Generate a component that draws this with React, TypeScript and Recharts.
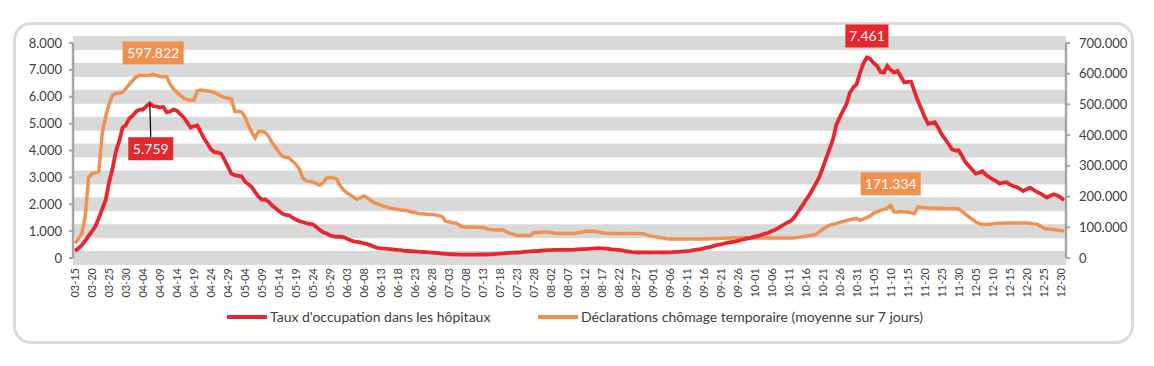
import React from 'react';
import { LineChart, Line, XAxis, YAxis, CartesianGrid, LabelList } from 'recharts';

// 2020-03-15 .. 2020-12-31, one point per day
const startMonth = 3;
const startDay = 15;
const monthLengths = [31, 29, 31, 30, 31, 30, 31, 31, 30, 31, 30, 31];

const hospitalOccupancy = [
  260, 360, 480, 640, 820, 990, 1180, 1480, 1820, 2150,
  2800, 3300, 3950, 4350, 4850, 4950, 5200, 5300, 5450, 5520,
  5530, 5650, 5759, 5650, 5640, 5600, 5620, 5420, 5450, 5520,
  5480, 5350, 5230, 5050, 4860, 4900, 4930, 4680, 4450, 4250,
  4050, 3940, 3920, 3880, 3650, 3400, 3140, 3080, 3060, 3040,
  2850, 2750, 2640, 2450, 2280, 2170, 2180, 2090, 1950, 1850,
  1750, 1650, 1600, 1590, 1500, 1430, 1370, 1340, 1300, 1270,
  1250, 1150, 1050, 960, 910, 850, 800, 790, 790, 780,
  720, 660, 620, 600, 580, 540, 520, 470, 420, 380,
  360, 350, 340, 325, 315, 300, 290, 265, 260, 255,
  245, 235, 230, 220, 210, 200, 190, 180, 165, 150,
  145, 140, 135, 130, 128, 125, 125, 125, 128, 130,
  130, 130, 135, 145, 155, 165, 170, 180, 190, 200,
  205, 210, 225, 235, 245, 255, 260, 270, 280, 290,
  295, 300, 300, 305, 300, 300, 300, 310, 320, 330,
  330, 340, 350, 360, 365, 360, 350, 340, 320, 310,
  300, 280, 260, 240, 220, 210, 205, 210, 210, 205,
  210, 210, 210, 205, 210, 210, 220, 230, 235, 245,
  255, 265, 290, 310, 330, 360, 390, 410, 450, 490,
  510, 540, 570, 590, 610, 640, 670, 700, 730, 760,
  800, 820, 860, 900, 940, 1000, 1050, 1120, 1200, 1280,
  1340, 1420, 1570, 1770, 1950, 2150, 2330, 2550, 2770, 3010,
  3350, 3700, 4050, 4400, 4950, 5230, 5480, 5730, 6150, 6350,
  6470, 6900, 7250, 7461, 7400, 7250, 7150, 6920, 6900, 7150,
  7000, 6900, 6960, 6750, 6530, 6550, 6560, 6200, 5850, 5550,
  5250, 4990, 5020, 5050, 4850, 4600, 4430, 4250, 4050, 4000,
  4000, 3800, 3570, 3420, 3280, 3140, 3170, 3230, 3100, 3010,
  2930, 2860, 2770, 2800, 2830, 2740, 2680, 2640, 2570, 2490,
  2560, 2620, 2540, 2460, 2400, 2320, 2250, 2320, 2370, 2330,
  2260, 2150,
];

const temporaryUnemployment = [
  48000, 62000, 80000, 134000, 263000, 275000, 278000, 282000, 404000, 460000,
  500000, 530000, 536000, 537000, 540000, 552000, 566000, 578000, 590000, 594000,
  594000, 594000, 595000, 597822, 594000, 591000, 590000, 590000, 566000, 550000,
  539000, 530000, 520000, 515000, 514000, 514000, 544000, 547000, 545000, 544000,
  542000, 539000, 533000, 527000, 523000, 520000, 518000, 477000, 477000, 476000,
  460000, 432000, 410000, 391000, 413000, 412000, 409000, 395000, 375000, 361000,
  345000, 331000, 328000, 326000, 315000, 305000, 290000, 260000, 251000, 250000,
  247000, 243000, 237000, 245000, 260000, 262000, 260000, 258000, 235000, 222000,
  212000, 205000, 198000, 191000, 196000, 202000, 196000, 188000, 180000, 176000,
  172000, 168000, 165000, 162000, 160000, 158000, 156000, 155000, 153000, 150000,
  148000, 145000, 144000, 143000, 142000, 142000, 140000, 138000, 135000, 120000,
  118000, 115000, 114000, 108000, 101000, 100000, 101000, 100000, 100000, 99000,
  99000, 96000, 93000, 92000, 91000, 91000, 91000, 84000, 80000, 77000,
  74000, 73000, 73000, 73000, 73000, 82000, 83000, 84000, 85000, 85000,
  83000, 81000, 80000, 80000, 80000, 80000, 80000, 80000, 82000, 84000,
  86000, 87000, 87000, 86000, 85000, 82000, 80000, 80000, 80000, 80000,
  79000, 80000, 80000, 80000, 79000, 80000, 80000, 79000, 76000, 72000,
  70000, 69000, 67000, 65000, 63000, 62000, 62000, 62000, 62000, 62000,
  62000, 62000, 62000, 62000, 62000, 62000, 62000, 63000, 63000, 63000,
  64000, 64000, 65000, 65000, 66000, 66000, 66000, 65000, 65000, 65000,
  65000, 65000, 65000, 65000, 65000, 65000, 65000, 65000, 65000, 65000,
  65000, 65000, 66000, 68000, 69000, 71000, 73000, 75000, 77000, 85000,
  94000, 101000, 106000, 110000, 112000, 116000, 119000, 122000, 125000, 127000,
  129000, 123000, 127000, 132000, 137000, 146000, 150000, 155000, 158000, 163000,
  171334, 150000, 150000, 151000, 150000, 149000, 147000, 145000, 166000, 165000,
  164000, 163000, 162000, 162000, 162000, 161000, 161000, 161000, 161000, 161000,
  160000, 152000, 143000, 134000, 126000, 118000, 112000, 110000, 109000, 110000,
  111000, 112000, 113000, 113000, 114000, 114000, 114000, 114000, 114000, 114000,
  114000, 113000, 111000, 110000, 104000, 97000, 95000, 94000, 93000, 91000,
  89000, 88000,
];

const leftTicks = [0, 1000, 2000, 3000, 4000, 5000, 6000, 7000, 8000];
const rightTicks = [0, 100000, 200000, 300000, 400000, 500000, 600000, 700000];

const seriesNames = [
  "Taux d'occupation dans les hôpitaux",
  'Déclarations chômage temporaire (moyenne sur 7 jours)',
];

const RED = '#e8262d';
const ORANGE = '#f0914f';
const TEXT = '#404040';
const FONT = 'Lato, "Noto Sans", sans-serif';

const pad = (n: number) => (n < 10 ? '0' + n : String(n));

const dates: string[] = [];
{
  let m = startMonth;
  let d = startDay;
  for (let i = 0; i < hospitalOccupancy.length; i++) {
    dates.push(`${pad(m)}-${pad(d)}`);
    d++;
    if (d > monthLengths[m - 1]) {
      d = 1;
      m++;
    }
  }
}

const data = dates.map((date, i) => ({
  date,
  hosp: hospitalOccupancy[i],
  chom: temporaryUnemployment[i],
}));

const fmt = (v: number) => String(Math.round(v)).replace(/\B(?=(\d{3})+(?!\d))/g, '.');

const peakOf = (arr: number[]) => arr.indexOf(Math.max(...arr));
const hospFirstPeak = peakOf(hospitalOccupancy.slice(0, 100));
const hospSecondPeak = peakOf(hospitalOccupancy);
const chomFirstPeak = peakOf(temporaryUnemployment);
const chomSecondPeak = 150 + peakOf(temporaryUnemployment.slice(150));

const makeLabel = (
  indices: number[],
  color: string,
  below: boolean[],
  widths: number[]
) => (props: any) => {
  const { x, y, index, value } = props;
  const k = indices.indexOf(index);
  if (k < 0) return null;
  const w = widths[k];
  const h = 23;
  if (below[k]) {
    const top = y + 34;
    return (
      <g>
        <line x1={x} y1={y} x2={x + 1} y2={top} stroke="#000" strokeWidth={1.2} />
        <rect x={x + 1 - w / 2} y={top} width={w} height={h} fill={color} />
        <text x={x + 1} y={top + h / 2} dy="0.35em" textAnchor="middle" fill="#fff" fontSize={14} fontFamily={FONT}>
          {fmt(value)}
        </text>
      </g>
    );
  }
  const top = y - 10 - h;
  return (
    <g>
      <rect x={x - w / 2} y={top} width={w} height={h} fill={color} />
      <text x={x} y={top + h / 2} dy="0.35em" textAnchor="middle" fill="#fff" fontSize={14} fontFamily={FONT}>
        {fmt(value)}
      </text>
    </g>
  );
};

const DateTick = (props: any) => {
  const { x, y, payload } = props;
  return (
    <g transform={`translate(${x},${y})`}>
      <text transform="rotate(-90)" textAnchor="end" dy="0.36em" fontSize={11} fill={TEXT} fontFamily={FONT}>
        {payload.value}
      </text>
    </g>
  );
};

export default function App() {
  return (
    <div style={{ position: 'absolute', left: 0, top: 0, width: 1154, height: 366, background: '#fff' }}>
      <div
        style={{
          position: 'absolute',
          left: 13,
          top: 22,
          width: 1121,
          height: 322,
          border: '3px solid #dadada',
          borderRadius: 18,
          boxSizing: 'border-box',
        }}
      />
      <div style={{ position: 'absolute', left: 0, top: 0 }}>
        <LineChart width={1154} height={366} data={data} margin={{ top: 43, right: 28, bottom: 48, left: 13 }}>
          <CartesianGrid yAxisId="left" vertical={false} stroke="#d9d9d9" strokeWidth={14} />
          <XAxis
            dataKey="date"
            interval={4}
            padding={{ left: 2, right: 2 }}
            axisLine={false}
            tickLine={false}
            tickSize={4}
            tickMargin={6}
            height={60}
            tick={<DateTick />}
          />
          <YAxis
            yAxisId="left"
            width={60}
            domain={[0, 8000]}
            ticks={leftTicks}
            tickFormatter={fmt}
            axisLine={{ stroke: '#a6a6a6', strokeWidth: 2.5 }}
            tickLine={{ stroke: '#a6a6a6', strokeWidth: 2 }}
            tickSize={4}
            tickMargin={7}
            tick={{ fill: TEXT, fontSize: 13, fontFamily: FONT }}
          />
          <YAxis
            yAxisId="right"
            orientation="right"
            width={60}
            domain={[0, 700000]}
            ticks={rightTicks}
            tickFormatter={fmt}
            axisLine={{ stroke: '#a6a6a6', strokeWidth: 2.5 }}
            tickLine={{ stroke: '#a6a6a6', strokeWidth: 2 }}
            tickSize={4}
            tickMargin={9}
            tick={{ fill: TEXT, fontSize: 13, fontFamily: FONT, textAnchor: 'start' }}
          />
          <Line
            yAxisId="right"
            dataKey="chom"
            name={seriesNames[1]}
            stroke={ORANGE}
            strokeWidth={3.5}
            dot={false}
            activeDot={false}
            isAnimationActive={false}
          >
            <LabelList
              dataKey="chom"
              content={makeLabel([chomFirstPeak, chomSecondPeak], ORANGE, [false, false], [61, 60])}
            />
          </Line>
          <Line
            yAxisId="left"
            dataKey="hosp"
            name={seriesNames[0]}
            stroke={RED}
            strokeWidth={3.8}
            dot={false}
            activeDot={false}
            isAnimationActive={false}
          >
            <LabelList
              dataKey="hosp"
              content={makeLabel([hospFirstPeak, hospSecondPeak], RED, [true, false], [45, 43])}
            />
          </Line>
        </LineChart>
      </div>
      <div
        style={{
          position: 'absolute',
          top: 307,
          left: 0,
          width: 1154,
          fontFamily: FONT,
          fontSize: 14,
          color: TEXT,
          lineHeight: '19px',
          whiteSpace: 'nowrap',
        }}
      >
        <div style={{ position: 'absolute', left: 227, top: 8, width: 40, height: 4, background: RED }} />
        <div style={{ position: 'absolute', left: 270, top: 0 }}>{seriesNames[0]}</div>
        <div style={{ position: 'absolute', left: 538, top: 8, width: 40, height: 4, background: ORANGE }} />
        <div style={{ position: 'absolute', left: 581, top: 0 }}>{seriesNames[1]}</div>
      </div>
    </div>
  );
}
